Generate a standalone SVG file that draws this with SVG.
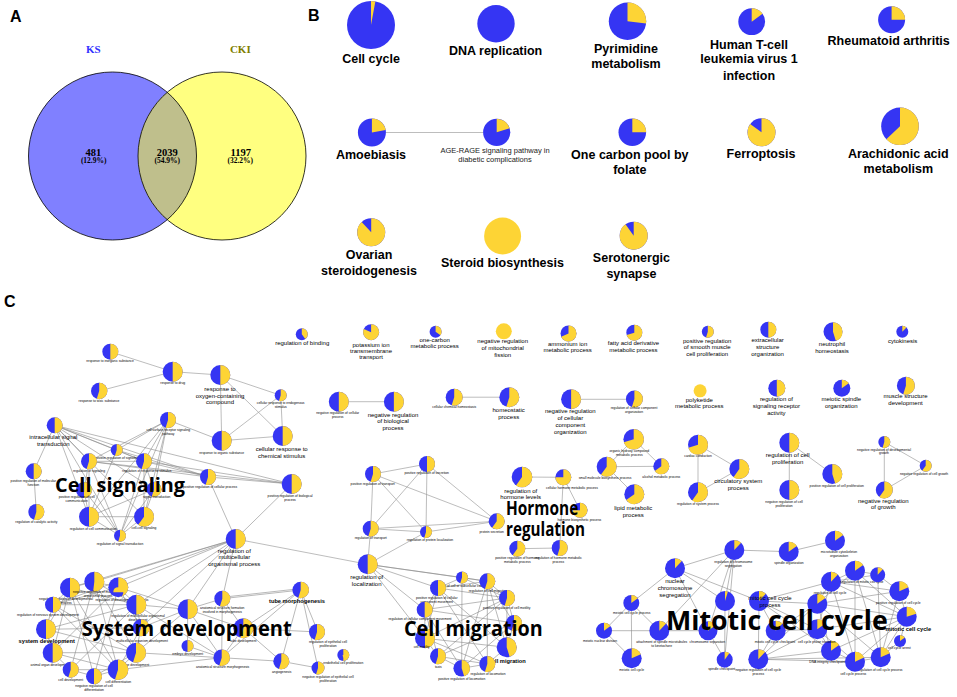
<svg xmlns="http://www.w3.org/2000/svg" width="957" height="697" viewBox="0 0 957 697">
<style>
.b{fill:#3535F3}
.y{fill:none;stroke:#FDD435}
.yf{fill:#FDD435}
text{font-family:"Liberation Sans",Arial,sans-serif;text-anchor:middle;fill:#000}
.lb{font-size:12.5px;font-weight:bold}
.sm7{font-size:7.5px;fill:#222}
.m{font-size:6px}
.mb{font-size:5.7px;font-weight:bold}
.s{font-size:3.3px}
.big{font-family:"Open Sans","Liberation Sans",sans-serif;font-weight:700;text-anchor:start}
.pl{font-size:16px;font-weight:bold;text-anchor:start}
.v{font-family:"Liberation Serif","Times New Roman",serif;font-weight:bold}
.e{fill:none;stroke:#a0a0a0;stroke-width:0.7}
.ed{fill:none;stroke:#8a8a8a;stroke-width:0.6}
</style>
<defs><clipPath id="ksClip"><circle cx="112.5" cy="156" r="84"/></clipPath></defs>
<rect width="957" height="697" fill="#fff"/>

<g id="panel-labels">
<text class="pl" x="10" y="21.7">A</text>
<text class="pl" x="308" y="21">B</text>
<text class="pl" x="4" y="307">C</text>
</g>

<g id="venn">
<circle cx="112.5" cy="156" r="84" fill="#8080FF"/>
<circle cx="222" cy="156" r="84" fill="#FFFF80"/>
<circle cx="222" cy="156" r="84" fill="#BFBF8C" clip-path="url(#ksClip)"/>
<circle cx="112.5" cy="156" r="84" fill="none" stroke="#000" stroke-width="0.8"/>
<circle cx="222" cy="156" r="84" fill="none" stroke="#000" stroke-width="0.8"/>
<text class="v" x="93.3" y="53" font-size="11" style="fill:#3333FF">KS</text>
<text class="v" x="240.3" y="53" font-size="11" style="fill:#7F7F00">CKI</text>
<text class="v" x="93.3" y="156" font-size="10.5">481</text>
<text class="v" x="93.7" y="163.3" font-size="7.5">(12.9%)</text>
<text class="v" x="167.2" y="156" font-size="10.5">2039</text>
<text class="v" x="167.3" y="163.3" font-size="7.5">(54.9%)</text>
<text class="v" x="240.7" y="156" font-size="10.5">1197</text>
<text class="v" x="240.3" y="163.3" font-size="7.5">(32.2%)</text>
</g>

<g id="connectors">
<path class="e" stroke-width="1.2" d="M386 132.5H483"/>
<path class="e" d="M348.8 401.7H383.9M462.7 397.2H499.3M581.1 399.3H625.9"/>
<path class="e" d="M110.3 351.7L172.7 371.7M99.2 391L172.7 371.7M172.7 371.7L220.3 375M220.3 375L280.7 395.3M220.3 375L221.7 440.7M220.3 375L282.7 436M280.7 395.3L221.7 440.7M280.7 395.3L282.7 436M221.7 440.7L282.7 436"/>
<path class="ed" d="M54.7 425.3L116.7 450M54.7 425.3L89 461.3M54.7 425.3L144 461.3M54.7 425.3L208 477M54.7 425.3L89 516.7M54.7 425.3L144 516.7M54.7 425.3L120 535.7M54.7 425.3L33.7 471.3M54.7 425.3L154 489.3M54.7 425.3L291.7 484M168 420L116.7 450M168 420L89 461.3M168 420L144 461.3M168 420L89 516.7M168 420L144 516.7M168 420L120 535.7M168 420L154 489.3M168 420L221.7 440.7M116.7 450L144 461.3M116.7 450L208 477M116.7 450L89 516.7M89 461.3L144 461.3M89 461.3L89 516.7M89 461.3L120 535.7M89 461.3L84 490M144 461.3L208 477M144 461.3L291.7 484M144 461.3L144 516.7M144 461.3L120 535.7M144 461.3L154 489.3M33.7 471.3L36.3 512M84 490L89 516.7M84 490L120 535.7M154 489.3L89 516.7M154 489.3L144 516.7M154 489.3L120 535.7M89 516.7L120 535.7M144 516.7L120 535.7M89 516.7L144 516.7M208 477L291.7 484M208 477L235.7 539M291.7 484L235.7 539M89 461.3L208 477M89 461.3L291.7 484"/>
<path class="e" d="M373 474L427 464M373 474L370.7 528.7M373 474L426 532M373 474L496.7 521.3M427 464L370.7 528.7M427 464L426 532M427 464L496.7 521.3M370.7 528.7L426 532M370.7 528.7L496.7 521.3M426 532L496.7 521.3M370.7 528.7L367.7 564.3M426 532L367.7 564.3M235.7 539L367.7 564.3"/>
<path class="e" d="M522 477L563.3 477.3M563.3 477.3L580 510.3M563.3 477.3L559.7 548M517.3 548.7L559.7 548"/>
<path class="e" d="M633.7 439.3L606.7 466.7M633.7 439.3L661.3 466.3M606.7 466.7L661.3 466.3M606.7 466.7L634.3 494.3M698 444.7L739.3 469M698 444.7L698 492.3M698 492.3L739.3 469M789.3 442.7L832.3 474M789.3 442.7L789.3 490M884.3 442L925.7 465.7M884.3 442L884.3 490M884.3 490L925.7 465.7"/>
<path class="ed" d="M235.7 539L70 587.7M235.7 539L94.3 581.7M235.7 539L118.3 587.3M235.7 539L53 604.7M235.7 539L136.3 604.7M235.7 539L141 627.7M235.7 539L187.7 609.3M235.7 539L222.3 598.7M70 587.7L94.3 581.7M94.3 581.7L118.3 587.3M70 587.7L53 604.7M70 587.7L136.3 604.7M70 587.7L46 629.3M70 587.7L52.7 652.7M70 587.7L118 669.7M70 587.7L94 676.3M94.3 581.7L136.3 604.7M94.3 581.7L136 652.7M94.3 581.7L70.7 669.7M94.3 581.7L118 669.7M118.3 587.3L136.3 604.7M118.3 587.3L53 604.7M118.3 587.3L141 627.7M118.3 587.3L52.7 652.7M118.3 587.3L94 676.3M53 604.7L136.3 604.7M53 604.7L46 629.3M53 604.7L136 652.7M53 604.7L118 669.7M136.3 604.7L141 627.7M136.3 604.7L46 629.3M136.3 604.7L70.7 669.7M136.3 604.7L221.7 657.7M46 629.3L52.7 652.7M46 629.3L141 627.7M46 629.3L136 652.7M141 627.7L136 652.7M141 627.7L118 669.7M52.7 652.7L136 652.7M52.7 652.7L70.7 669.7M52.7 652.7L118 669.7M136 652.7L118 669.7M136 652.7L94 676.3M70.7 669.7L118 669.7M70.7 669.7L94 676.3M94 676.3L118 669.7M141 627.7L187.7 609.3M136.3 604.7L187.7 609.3M136 652.7L221.7 657.7M118 669.7L221.7 657.7M118.3 587.3L187.7 609.3M136 652.7L187.7 609.3"/>
<path class="ed" d="M187.7 609.3L222.3 598.7M187.7 609.3L243.3 628.3M187.7 609.3L221.7 657.7M222.3 598.7L243.3 628.3M222.3 598.7L300.7 590M222.3 597.3L300.7 588.6M222.3 598.7L221.7 657.7M243.3 628.3L300.7 590M243.3 628.3L221.7 657.7M243.3 628.3L281.3 661.3M187.5 646L221.7 657.7M187.7 609.3L187.5 646M221.7 657.7L281.3 661.3M300.7 590L281.3 661.3M300.7 590L318 632M300.7 590L318 668M243.3 628.3L318 632M281.3 661.3L318 668M221.7 657.7L300.7 590"/>
<path class="ed" d="M367.7 564.3L462 577.5M367.7 564.3L438 588M367.7 564.3L424.7 609.7M367.7 564.3L425 638.3M367.7 564.3L487.3 581.3M462 577.5L487.3 581.3M462 577.5L438 588M487.3 581.3L507 598M438 588L424.7 609.7M438 588L487.3 581.3M438 588L507 598M438 588L425 638.3M438 588L506.7 647.3M438 588L487.3 664M424.7 609.7L425 638.3M424.7 609.7L514 623M424.7 609.7L507 598M424.7 609.7L438 656.3M424.7 609.7L461.7 668.3M425 638.3L438 656.3M425 638.3L506.7 647.3M425 638.3L487.3 664M438 656.3L461.7 668.3M461.7 668.3L487.3 664M487.3 664L506.7 647.3M506.7 647.3L514 623M514 623L507 598M487.3 581.3L514 623M487.3 581.3L506.7 647.3M487.3 581.3L487.3 664M462 577.5L507 598M462 577.5L461.7 668.3M487.3 581.3L461.7 668.3M507 598L438 656.3M507 598L425 638.3M514 623L438 656.3M514 623L461.7 668.3M438 656.3L487.3 664M507 598L506.7 647.3"/>
<path class="ed" d="M675 568.3L734.3 550M734.3 550L788.7 551.7M788.7 551.7L835 540.7M675 568.3L631.3 603M675 568.3L725 601M675 568.3L708 630.7M675 568.3L759 601M734.3 550L725 601M734.3 550L708 630.7M734.3 550L724.7 659.7M734.3 550L659.3 630.7M725 601L724.7 659.7M708 630.7L724.7 659.7M631.3 603L604 630.7M631.3 603L631.7 658.3M604 630.7L631.7 658.3M604 630.7L659.3 630.7M631.3 603L659.3 630.7M659.3 630.7L708 630.7M759 601L758.3 659.3M759 601L775.7 630.7M759 601L831 581.7M759 601L817.3 603.7M759 601L817.3 629.3M759 601L831 650.7M758.3 659.3L817.3 603.7M758.3 659.3L817.3 629.3M758.3 659.3L831 650.7M758.3 659.3L775.7 630.7M758.3 659.3L855 661.7M758.3 659.3L880.7 657.3M775.7 630.7L817.3 603.7M817.3 603.7L831 581.7M817.3 603.7L855 570.7M817.3 603.7L899.3 591.3M817.3 603.7L906.7 616.7M817.3 603.7L880.7 657.3M817.3 603.7L831 650.7M831 581.7L855 570.7M831 581.7L877.7 574.7M831 581.7L899.3 591.3M831 581.7L906.7 616.7M831 581.7L855 661.7M855 570.7L877.7 574.7M855 570.7L906.7 616.7M855 570.7L880.7 657.3M877.7 574.7L899.3 591.3M899.3 591.3L906.7 616.7M899.3 591.3L880.7 657.3M906.7 616.7L900 641M906.7 616.7L880.7 657.3M906.7 616.7L855 661.7M900 641L880.7 657.3M880.7 657.3L855 661.7M855 661.7L831 650.7M831 650.7L817.3 629.3M817.3 629.3L831 581.7M817.3 629.3L906.7 616.7M817.3 629.3L855 661.7M775.7 630.7L817.3 629.3M831 650.7L906.7 616.7M855 570.7L855 661.7M877.7 574.7L880.7 657.3"/>
</g>

<g id="panel-b">
<g id="b-cell-cycle"><circle class="b" cx="371" cy="25" r="24"/><circle class="y" cx="371" cy="25" r="12" stroke-width="24" pathLength="100" stroke-dasharray="3 100" transform="rotate(-90 371 25)"/><text class="lb" x="371" y="63">Cell cycle</text></g>
<g id="b-dna-replication"><circle class="b" cx="496" cy="23.7" r="18.7"/><text class="lb" x="495.6" y="55">DNA replication</text></g>
<g id="b-pyrimidine"><circle class="b" cx="627.5" cy="21.3" r="18.7"/><circle class="y" cx="627.5" cy="21.3" r="9.35" stroke-width="18.7" pathLength="100" stroke-dasharray="27 100" transform="rotate(-90 627.5 21.3)"/><text class="lb" x="626" y="53.3">Pyrimidine</text><text class="lb" x="626" y="68.3">metabolism</text></g>
<g id="b-htlv"><circle class="b" cx="751.7" cy="21.7" r="13.4"/><circle class="y" cx="751.7" cy="21.7" r="6.7" stroke-width="13.4" pathLength="100" stroke-dasharray="15 100" transform="rotate(-90 751.7 21.7)"/><text class="lb" x="749" y="49">Human T-cell</text><text class="lb" x="749" y="63.3">leukemia virus 1</text><text class="lb" x="749" y="80">infection</text></g>
<g id="b-rheumatoid"><circle class="b" cx="891.6" cy="19.7" r="13.5"/><circle class="y" cx="891.6" cy="19.7" r="6.75" stroke-width="13.5" pathLength="100" stroke-dasharray="25 100" transform="rotate(-90 891.6 19.7)"/><text class="lb" x="888.7" y="45">Rheumatoid arthritis</text></g>
<g id="b-amoebiasis"><circle class="b" cx="371.9" cy="132.5" r="14"/><circle class="y" cx="371.9" cy="132.5" r="7" stroke-width="14" pathLength="100" stroke-dasharray="22 100" transform="rotate(-90 371.9 132.5)"/><text class="lb" x="371" y="159">Amoebiasis</text></g>
<g id="b-age-rage"><circle class="b" cx="496.7" cy="132.3" r="13.6"/><circle class="y" cx="496.7" cy="132.3" r="6.8" stroke-width="13.6" pathLength="100" stroke-dasharray="20 100" transform="rotate(-90 496.7 132.3)"/><text class="sm7" x="495" y="153.3">AGE-RAGE signaling pathway in</text><text class="sm7" x="495" y="161.7">diabetic complications</text></g>
<g id="b-one-carbon"><circle class="b" cx="632.3" cy="132.3" r="13.8"/><circle class="y" cx="632.3" cy="132.3" r="6.9" stroke-width="13.8" pathLength="100" stroke-dasharray="25 100" transform="rotate(-90 632.3 132.3)"/><text class="lb" x="629.8" y="159">One carbon pool by</text><text class="lb" x="629.8" y="174.3">folate</text></g>
<g id="b-ferroptosis"><circle class="b" cx="761.5" cy="132.3" r="14"/><circle class="y" cx="761.5" cy="132.3" r="7" stroke-width="14" pathLength="100" stroke-dasharray="85 100" transform="rotate(-90 761.5 132.3)"/><text class="lb" x="761" y="158.3">Ferroptosis</text></g>
<g id="b-arachidonic"><circle class="b" cx="900" cy="126.3" r="18.8"/><circle class="y" cx="900" cy="126.3" r="9.4" stroke-width="18.8" pathLength="100" stroke-dasharray="63 100" transform="rotate(-90 900 126.3)"/><text class="lb" x="898.3" y="157.7">Arachidonic acid</text><text class="lb" x="898.3" y="173.3">metabolism</text></g>
<g id="b-ovarian"><circle class="b" cx="371.2" cy="232.3" r="14"/><circle class="y" cx="371.2" cy="232.3" r="7" stroke-width="14" pathLength="100" stroke-dasharray="88 100" transform="rotate(-90 371.2 232.3)"/><text class="lb" x="369" y="259">Ovarian</text><text class="lb" x="369" y="275">steroidogenesis</text></g>
<g id="b-steroid"><circle class="yf" cx="502.6" cy="236" r="18.5"/><text class="lb" x="502.4" y="266.7">Steroid biosynthesis</text></g>
<g id="b-serotonergic"><circle class="b" cx="633.7" cy="235.7" r="14"/><circle class="y" cx="633.7" cy="235.7" r="7" stroke-width="14" pathLength="100" stroke-dasharray="90 100" transform="rotate(-90 633.7 235.7)"/><text class="lb" x="631.4" y="261.7">Serotonergic</text><text class="lb" x="631.4" y="277.7">synapse</text></g>
</g>

<g id="panel-c-top">
<g id="c-binding"><circle class="b" cx="301.8" cy="334.2" r="6"/><circle class="y" cx="301.8" cy="334.2" r="3" stroke-width="6" pathLength="100" stroke-dasharray="40 100" transform="rotate(-90 301.8 334.2)"/><text class="m" x="302.2" y="345">regulation of binding</text></g>
<g id="c-potassium"><circle class="b" cx="371.1" cy="332.2" r="8"/><circle class="y" cx="371.1" cy="332.2" r="4" stroke-width="8" pathLength="100" stroke-dasharray="82 100" transform="rotate(-90 371.1 332.2)"/><text class="m" x="371" y="347.3">potassium ion</text><text class="m" x="371" y="353.3">transmembrane</text><text class="m" x="371" y="359.3">transport</text></g>
<g id="c-one-carbon"><circle class="b" cx="435.6" cy="331.7" r="6"/><circle class="y" cx="435.6" cy="331.7" r="3" stroke-width="6" pathLength="100" stroke-dasharray="35 100" transform="rotate(-90 435.6 331.7)"/><text class="m" x="434.7" y="342.3">one-carbon</text><text class="m" x="434.7" y="348.3">metabolic process</text></g>
<g id="c-mito-fission"><circle class="yf" cx="503.8" cy="331.3" r="8"/><text class="m" x="502.7" y="343.3">negative regulation</text><text class="m" x="502.7" y="350">of mitochondrial</text><text class="m" x="502.7" y="356.7">fission</text></g>
<g id="c-ammonium"><circle class="b" cx="568.5" cy="333.5" r="8"/><circle class="y" cx="568.5" cy="333.5" r="4" stroke-width="8" pathLength="100" stroke-dasharray="68 100" transform="rotate(-90 568.5 333.5)"/><text class="m" x="567.6" y="345.7">ammonium ion</text><text class="m" x="567.6" y="352.3">metabolic process</text></g>
<g id="c-fatty"><circle class="b" cx="634.3" cy="332.7" r="8"/><circle class="y" cx="634.3" cy="332.7" r="4" stroke-width="8" pathLength="100" stroke-dasharray="70 100" transform="rotate(-90 634.3 332.7)"/><text class="m" x="633.4" y="345">fatty acid derivative</text><text class="m" x="633.4" y="351.7">metabolic process</text></g>
<g id="c-smooth"><circle class="b" cx="707.8" cy="331.7" r="6"/><circle class="y" cx="707.8" cy="331.7" r="3" stroke-width="6" pathLength="100" stroke-dasharray="55 100" transform="rotate(-90 707.8 331.7)"/><text class="m" x="707.2" y="342.7">positive regulation</text><text class="m" x="707.2" y="349.3">of smooth muscle</text><text class="m" x="707.2" y="356">cell proliferation</text></g>
<g id="c-extracell"><circle class="b" cx="768.3" cy="329.7" r="8"/><circle class="y" cx="768.3" cy="329.7" r="4" stroke-width="8" pathLength="100" stroke-dasharray="50 100" transform="rotate(-90 768.3 329.7)"/><text class="m" x="767.6" y="341.7">extracellular</text><text class="m" x="767.6" y="349">structure</text><text class="m" x="767.6" y="356">organization</text></g>
<g id="c-neutrophil"><circle class="b" cx="833" cy="331.7" r="9.5"/><circle class="y" cx="833" cy="331.7" r="4.75" stroke-width="9.5" pathLength="100" stroke-dasharray="45 100" transform="rotate(-90 833 331.7)"/><text class="m" x="832" y="346">neutrophil</text><text class="m" x="832" y="353.3">homeostasis</text></g>
<g id="c-cytokinesis"><circle class="b" cx="902.3" cy="331.8" r="6"/><circle class="y" cx="902.3" cy="331.8" r="3" stroke-width="6" pathLength="100" stroke-dasharray="12 100" transform="rotate(-90 902.3 331.8)"/><text class="m" x="902.7" y="342.7">cytokinesis</text></g>

<g id="c-neg-cell-proc"><circle class="b" cx="338.8" cy="401.7" r="10"/><circle class="y" cx="338.8" cy="401.7" r="5" stroke-width="10" pathLength="100" stroke-dasharray="50 100" transform="rotate(-90 338.8 401.7)"/><text class="s" x="337.7" y="414.3">negative regulation of cellular</text><text class="s" x="337.7" y="418.3">process</text></g>
<g id="c-neg-bio-proc"><circle class="b" cx="393.9" cy="401.7" r="10"/><circle class="y" cx="393.9" cy="401.7" r="5" stroke-width="10" pathLength="100" stroke-dasharray="50 100" transform="rotate(-90 393.9 401.7)"/><text class="m" x="393" y="416.7">negative regulation</text><text class="m" x="393" y="423.3">of biological</text><text class="m" x="393" y="430">process</text></g>
<g id="c-chem-homeo"><circle class="b" cx="454.2" cy="397.2" r="8.5"/><circle class="y" cx="454.2" cy="397.2" r="4.25" stroke-width="8.5" pathLength="100" stroke-dasharray="55 100" transform="rotate(-90 454.2 397.2)"/><text class="s" x="454.2" y="407.7">cellular chemical homeostasis</text></g>
<g id="c-homeostatic"><circle class="b" cx="509.3" cy="397.3" r="10"/><circle class="y" cx="509.3" cy="397.3" r="5" stroke-width="10" pathLength="100" stroke-dasharray="55 100" transform="rotate(-90 509.3 397.3)"/><text class="m" x="508.7" y="411.7">homeostatic</text><text class="m" x="508.7" y="418.7">process</text></g>
<g id="c-neg-compo"><circle class="b" cx="571.1" cy="399.3" r="10"/><circle class="y" cx="571.1" cy="399.3" r="5" stroke-width="10" pathLength="100" stroke-dasharray="50 100" transform="rotate(-90 571.1 399.3)"/><text class="m" x="570.3" y="413.3">negative regulation</text><text class="m" x="570.3" y="420.3">of cellular</text><text class="m" x="570.3" y="427.3">component</text><text class="m" x="570.3" y="434.3">organization</text></g>
<g id="c-reg-compo"><circle class="b" cx="634.4" cy="399" r="8.5"/><circle class="y" cx="634.4" cy="399" r="4.25" stroke-width="8.5" pathLength="100" stroke-dasharray="55 100" transform="rotate(-90 634.4 399)"/><text class="s" x="634" y="409.3">regulation of cellular component</text><text class="s" x="634" y="413.3">organization</text></g>
<g id="c-polyketide"><circle class="yf" cx="700.1" cy="390.8" r="6.5"/><text class="m" x="699.3" y="401.7">polyketide</text><text class="m" x="699.3" y="408.3">metabolic process</text></g>
<g id="c-reg-sig-rec"><circle class="b" cx="776.8" cy="388.3" r="8.5"/><circle class="y" cx="776.8" cy="388.3" r="4.25" stroke-width="8.5" pathLength="100" stroke-dasharray="50 100" transform="rotate(-90 776.8 388.3)"/><text class="m" x="776.4" y="400.7">regulation of</text><text class="m" x="776.4" y="408">signaling receptor</text><text class="m" x="776.4" y="415.3">activity</text></g>
<g id="c-meiotic-spindle"><circle class="b" cx="841.8" cy="388.3" r="8.5"/><circle class="y" cx="841.8" cy="388.3" r="4.25" stroke-width="8.5" pathLength="100" stroke-dasharray="15 100" transform="rotate(-90 841.8 388.3)"/><text class="m" x="841.3" y="401">meiotic spindle</text><text class="m" x="841.3" y="408.3">organization</text></g>
<g id="c-muscle"><circle class="b" cx="905.9" cy="385.7" r="9"/><circle class="y" cx="905.9" cy="385.7" r="4.5" stroke-width="9" pathLength="100" stroke-dasharray="55 100" transform="rotate(-90 905.9 385.7)"/><text class="m" x="905.5" y="398.3">muscle structure</text><text class="m" x="905.5" y="405.3">development</text></g>
</g>

<g id="panel-c-response">
<g id="c-inorganic"><circle class="b" cx="110.3" cy="351.7" r="8"/><circle class="y" cx="110.3" cy="351.7" r="4" stroke-width="8" pathLength="100" stroke-dasharray="50 100" transform="rotate(-90 110.3 351.7)"/><text class="s" x="110" y="362.3">response to inorganic substance</text></g>
<g id="c-drug"><circle class="b" cx="172.7" cy="371.7" r="10"/><circle class="y" cx="172.7" cy="371.7" r="5" stroke-width="10" pathLength="100" stroke-dasharray="50 100" transform="rotate(-90 172.7 371.7)"/><text class="s" x="172.7" y="384">response to drug</text></g>
<g id="c-toxic"><circle class="b" cx="99.2" cy="391" r="8.2"/><circle class="y" cx="99.2" cy="391" r="4.1" stroke-width="8.2" pathLength="100" stroke-dasharray="55 100" transform="rotate(-90 99.2 391)"/><text class="s" x="99" y="401.7">response to toxic substance</text></g>
<g id="c-oxygen"><circle class="b" cx="220.3" cy="375" r="10"/><circle class="y" cx="220.3" cy="375" r="5" stroke-width="10" pathLength="100" stroke-dasharray="50 100" transform="rotate(-90 220.3 375)"/><text class="m" x="220" y="390.7">response to</text><text class="m" x="220" y="397.7">oxygen-containing</text><text class="m" x="220" y="404.3">compound</text></g>
<g id="c-endogenous"><circle class="b" cx="280.7" cy="395.3" r="6"/><circle class="y" cx="280.7" cy="395.3" r="3" stroke-width="6" pathLength="100" stroke-dasharray="55 100" transform="rotate(-90 280.7 395.3)"/><text class="s" x="280.7" y="404">cellular response to endogenous</text><text class="s" x="280.7" y="408">stimulus</text></g>
<g id="c-organic"><circle class="b" cx="221.7" cy="440.7" r="10"/><circle class="y" cx="221.7" cy="440.7" r="5" stroke-width="10" pathLength="100" stroke-dasharray="50 100" transform="rotate(-90 221.7 440.7)"/><text class="s" x="221.7" y="454">response to organic substance</text></g>
<g id="c-chem-stim"><circle class="b" cx="282.7" cy="436" r="10"/><circle class="y" cx="282.7" cy="436" r="5" stroke-width="10" pathLength="100" stroke-dasharray="50 100" transform="rotate(-90 282.7 436)"/><text class="m" x="281.7" y="451">cellular response to</text><text class="m" x="281.7" y="458">chemical stimulus</text></g>
</g>

<g id="panel-c-signaling">
<g id="c-ist"><circle class="b" cx="54.7" cy="425.3" r="8"/><circle class="y" cx="54.7" cy="425.3" r="4" stroke-width="8" pathLength="100" stroke-dasharray="50 100" transform="rotate(-90 54.7 425.3)"/><text class="m" x="53.3" y="439.3">intracellular signal</text><text class="m" x="53.3" y="446">transduction</text></g>
<g id="c-csr"><circle class="b" cx="168" cy="420" r="8"/><circle class="y" cx="168" cy="420" r="4" stroke-width="8" pathLength="100" stroke-dasharray="55 100" transform="rotate(-90 168 420)"/><text class="s" x="168.3" y="430.7">cell surface receptor signaling</text><text class="s" x="168.3" y="434.7">pathway</text></g>
<g id="c-prs"><circle class="b" cx="116.7" cy="450" r="6"/><circle class="y" cx="116.7" cy="450" r="3" stroke-width="6" pathLength="100" stroke-dasharray="55 100" transform="rotate(-90 116.7 450)"/><text class="s" x="116.7" y="458.7">positive regulation of signaling</text></g>
<g id="c-rs"><circle class="b" cx="89" cy="461.3" r="8"/><circle class="y" cx="89" cy="461.3" r="4" stroke-width="8" pathLength="100" stroke-dasharray="55 100" transform="rotate(-90 89 461.3)"/><text class="s" x="89" y="472.3">regulation of signaling</text></g>
<g id="c-rrs"><circle class="b" cx="144" cy="461.3" r="8"/><circle class="y" cx="144" cy="461.3" r="4" stroke-width="8" pathLength="100" stroke-dasharray="55 100" transform="rotate(-90 144 461.3)"/><text class="s" x="146.7" y="472.3">regulation of response to stimulus</text></g>
<g id="c-pmf"><circle class="b" cx="33.7" cy="471.3" r="8"/><circle class="y" cx="33.7" cy="471.3" r="4" stroke-width="8" pathLength="100" stroke-dasharray="50 100" transform="rotate(-90 33.7 471.3)"/><text class="s" x="33.3" y="482.3">positive regulation of molecular</text><text class="s" x="33.3" y="486.3">function</text></g>
<g id="c-pcp"><circle class="b" cx="208" cy="477" r="8"/><circle class="y" cx="208" cy="477" r="4" stroke-width="8" pathLength="100" stroke-dasharray="55 100" transform="rotate(-90 208 477)"/><text class="s" x="210" y="488.3">positive regulation of cellular process</text></g>
<g id="c-pbp"><circle class="b" cx="291.7" cy="484" r="10"/><circle class="y" cx="291.7" cy="484" r="5" stroke-width="10" pathLength="100" stroke-dasharray="50 100" transform="rotate(-90 291.7 484)"/><text class="s" x="290" y="496.7">positive regulation of biological</text><text class="s" x="290" y="500.7">process</text></g>
<g id="c-pcc"><circle class="b" cx="84" cy="490" r="8"/><circle class="y" cx="84" cy="490" r="4" stroke-width="8" pathLength="100" stroke-dasharray="50 100" transform="rotate(-90 84 490)"/><text class="s" x="76.7" y="497.5">positive regulation of cell</text><text class="s" x="76.7" y="501.5">communication</text></g>
<g id="c-st"><circle class="b" cx="154" cy="489.3" r="7.5"/><circle class="y" cx="154" cy="489.3" r="3.75" stroke-width="7.5" pathLength="100" stroke-dasharray="55 100" transform="rotate(-90 154 489.3)"/><text class="s" x="156.7" y="498">signal transduction</text></g>
<g id="c-rca"><circle class="b" cx="36.3" cy="512" r="8"/><circle class="y" cx="36.3" cy="512" r="4" stroke-width="8" pathLength="100" stroke-dasharray="55 100" transform="rotate(-90 36.3 512)"/><text class="s" x="36.3" y="523">regulation of catalytic activity</text></g>
<g id="c-rcc"><circle class="b" cx="89" cy="516.7" r="10"/><circle class="y" cx="89" cy="516.7" r="5" stroke-width="10" pathLength="100" stroke-dasharray="50 100" transform="rotate(-90 89 516.7)"/><text class="s" x="93.3" y="530">regulation of cell communication</text></g>
<g id="c-ccs"><circle class="b" cx="144" cy="516.7" r="10"/><circle class="y" cx="144" cy="516.7" r="5" stroke-width="10" pathLength="100" stroke-dasharray="60 100" transform="rotate(-90 144 516.7)"/><text class="s" x="144" y="529.3">cell-cell signaling</text></g>
<g id="c-rst"><circle class="b" cx="120" cy="535.7" r="6"/><circle class="y" cx="120" cy="535.7" r="3" stroke-width="6" pathLength="100" stroke-dasharray="55 100" transform="rotate(-90 120 535.7)"/><text class="s" x="120" y="545">regulation of signal transduction</text></g>
<g id="c-reg-multi"><circle class="b" cx="235.7" cy="539" r="10"/><circle class="y" cx="235.7" cy="539" r="5" stroke-width="10" pathLength="100" stroke-dasharray="50 100" transform="rotate(-90 235.7 539)"/><text class="m" x="234.3" y="553.3">regulation of</text><text class="m" x="234.3" y="559.3">multicellular</text><text class="m" x="234.3" y="566">organismal process</text></g>
</g>

<g id="panel-c-transport">
<g id="c-pos-transport"><circle class="b" cx="373" cy="474" r="8"/><circle class="y" cx="373" cy="474" r="4" stroke-width="8" pathLength="100" stroke-dasharray="55 100" transform="rotate(-90 373 474)"/><text class="s" x="372.7" y="485">positive regulation of transport</text></g>
<g id="c-pos-secretion"><circle class="b" cx="427" cy="464" r="8"/><circle class="y" cx="427" cy="464" r="4" stroke-width="8" pathLength="100" stroke-dasharray="50 100" transform="rotate(-90 427 464)"/><text class="s" x="426.7" y="474.3">positive regulation of secretion</text></g>
<g id="c-reg-transport"><circle class="b" cx="370.7" cy="528.7" r="8"/><circle class="y" cx="370.7" cy="528.7" r="4" stroke-width="8" pathLength="100" stroke-dasharray="55 100" transform="rotate(-90 370.7 528.7)"/><text class="s" x="370.7" y="539.3">regulation of transport</text></g>
<g id="c-reg-prot-loc"><circle class="b" cx="426" cy="532" r="6"/><circle class="y" cx="426" cy="532" r="3" stroke-width="6" pathLength="100" stroke-dasharray="55 100" transform="rotate(-90 426 532)"/><text class="s" x="430" y="541">regulation of protein localization</text></g>
<g id="c-prot-secretion"><circle class="b" cx="496.7" cy="521.3" r="8"/><circle class="y" cx="496.7" cy="521.3" r="4" stroke-width="8" pathLength="100" stroke-dasharray="60 100" transform="rotate(-90 496.7 521.3)"/><text class="s" x="491.7" y="532.7">protein secretion</text></g>
<g id="c-reg-localization"><circle class="b" cx="367.7" cy="564.3" r="10"/><circle class="y" cx="367.7" cy="564.3" r="5" stroke-width="10" pathLength="100" stroke-dasharray="50 100" transform="rotate(-90 367.7 564.3)"/><text class="m" x="366.7" y="579.3">regulation of</text><text class="m" x="366.7" y="586">localization</text></g>
</g>

<g id="panel-c-hormone">
<g id="c-hormone-levels"><circle class="b" cx="522" cy="477" r="10.3"/><circle class="y" cx="522" cy="477" r="5.15" stroke-width="10.3" pathLength="100" stroke-dasharray="60 100" transform="rotate(-90 522 477)"/><text class="m" x="520.7" y="492.7">regulation of</text><text class="m" x="520.7" y="499">hormone levels</text></g>
<g id="c-cell-hormone"><circle class="b" cx="563.3" cy="477.3" r="8"/><circle class="y" cx="563.3" cy="477.3" r="4" stroke-width="8" pathLength="100" stroke-dasharray="75 100" transform="rotate(-90 563.3 477.3)"/><text class="s" x="572" y="488.7">cellular hormone metabolic process</text></g>
<g id="c-hormone-bio"><circle class="b" cx="580" cy="510.3" r="7.5"/><circle class="y" cx="580" cy="510.3" r="3.75" stroke-width="7.5" pathLength="100" stroke-dasharray="75 100" transform="rotate(-90 580 510.3)"/><text class="s" x="579.3" y="521">hormone biosynthetic process</text></g>
<g id="c-pos-hormone-met"><circle class="b" cx="517.3" cy="548.7" r="8"/><circle class="y" cx="517.3" cy="548.7" r="4" stroke-width="8" pathLength="100" stroke-dasharray="60 100" transform="rotate(-90 517.3 548.7)"/><text class="s" x="517.3" y="559">positive regulation of hormone</text><text class="s" x="517.3" y="563">metabolic process</text></g>
<g id="c-reg-hormone-met"><circle class="b" cx="559.7" cy="548" r="8"/><circle class="y" cx="559.7" cy="548" r="4" stroke-width="8" pathLength="100" stroke-dasharray="55 100" transform="rotate(-90 559.7 548)"/><text class="s" x="558.3" y="559">regulation of hormone metabolic</text><text class="s" x="558.3" y="563">process</text></g>
</g>

<g id="panel-c-metabolic">
<g id="c-organic-hydroxy"><circle class="b" cx="633.7" cy="439.3" r="10.3"/><circle class="y" cx="633.7" cy="439.3" r="5.15" stroke-width="10.3" pathLength="100" stroke-dasharray="70 100" transform="rotate(-90 633.7 439.3)"/><text class="s" x="629.3" y="452">organic hydroxy compound</text><text class="s" x="629.3" y="456">metabolic process</text></g>
<g id="c-small-mol"><circle class="b" cx="606.7" cy="466.7" r="10"/><circle class="y" cx="606.7" cy="466.7" r="5" stroke-width="10" pathLength="100" stroke-dasharray="60 100" transform="rotate(-90 606.7 466.7)"/><text class="s" x="605" y="479.3">small molecule biosynthetic process</text></g>
<g id="c-alcohol"><circle class="b" cx="661.3" cy="466.3" r="8"/><circle class="y" cx="661.3" cy="466.3" r="4" stroke-width="8" pathLength="100" stroke-dasharray="65 100" transform="rotate(-90 661.3 466.3)"/><text class="s" x="661.3" y="477.7">alcohol metabolic process</text></g>
<g id="c-lipid"><circle class="b" cx="634.3" cy="494.3" r="10"/><circle class="y" cx="634.3" cy="494.3" r="5" stroke-width="10" pathLength="100" stroke-dasharray="65 100" transform="rotate(-90 634.3 494.3)"/><text class="m" x="633.3" y="510">lipid metabolic</text><text class="m" x="633.3" y="516.7">process</text></g>
<g id="c-cardiac"><circle class="b" cx="698" cy="444.7" r="10"/><circle class="y" cx="698" cy="444.7" r="5" stroke-width="10" pathLength="100" stroke-dasharray="70 100" transform="rotate(-90 698 444.7)"/><text class="s" x="698" y="457.3">cardiac conduction</text></g>
<g id="c-circulatory"><circle class="b" cx="739.3" cy="469" r="10"/><circle class="y" cx="739.3" cy="469" r="5" stroke-width="10" pathLength="100" stroke-dasharray="60 100" transform="rotate(-90 739.3 469)"/><text class="m" x="738.3" y="483.3">circulatory system</text><text class="m" x="738.3" y="490.3">process</text></g>
<g id="c-reg-system"><circle class="b" cx="698" cy="492.3" r="10"/><circle class="y" cx="698" cy="492.3" r="5" stroke-width="10" pathLength="100" stroke-dasharray="60 100" transform="rotate(-90 698 492.3)"/><text class="s" x="698" y="505.3">regulation of system process</text></g>
<g id="c-reg-cell-prol"><circle class="b" cx="789.3" cy="442.7" r="10"/><circle class="y" cx="789.3" cy="442.7" r="5" stroke-width="10" pathLength="100" stroke-dasharray="50 100" transform="rotate(-90 789.3 442.7)"/><text class="m" x="787.7" y="457.3">regulation of cell</text><text class="m" x="787.7" y="464">proliferation</text></g>
<g id="c-pos-cell-prol"><circle class="b" cx="832.3" cy="474" r="10"/><circle class="y" cx="832.3" cy="474" r="5" stroke-width="10" pathLength="100" stroke-dasharray="45 100" transform="rotate(-90 832.3 474)"/><text class="s" x="836.7" y="486.7">positive regulation of cell proliferation</text></g>
<g id="c-neg-cell-prol"><circle class="b" cx="789.3" cy="490" r="10"/><circle class="y" cx="789.3" cy="490" r="5" stroke-width="10" pathLength="100" stroke-dasharray="50 100" transform="rotate(-90 789.3 490)"/><text class="s" x="784" y="502.7">negative regulation of cell</text><text class="s" x="784" y="506.7">proliferation</text></g>
<g id="c-neg-dev-growth"><circle class="b" cx="884.3" cy="442" r="6"/><circle class="y" cx="884.3" cy="442" r="3" stroke-width="6" pathLength="100" stroke-dasharray="55 100" transform="rotate(-90 884.3 442)"/><text class="s" x="884" y="450.7">negative regulation of developmental</text><text class="s" x="884" y="454.3">growth</text></g>
<g id="c-neg-cell-growth"><circle class="b" cx="925.7" cy="465.7" r="6"/><circle class="y" cx="925.7" cy="465.7" r="3" stroke-width="6" pathLength="100" stroke-dasharray="60 100" transform="rotate(-90 925.7 465.7)"/><text class="s" x="924" y="474.7">negative regulation of cell growth</text></g>
<g id="c-neg-growth"><circle class="b" cx="884.3" cy="490" r="8.5"/><circle class="y" cx="884.3" cy="490" r="4.25" stroke-width="8.5" pathLength="100" stroke-dasharray="60 100" transform="rotate(-90 884.3 490)"/><text class="m" x="883.3" y="502.7">negative regulation</text><text class="m" x="883.3" y="509.3">of growth</text></g>
</g>

<g id="panel-c-development">
<g id="c-sd-a"><circle class="b" cx="70" cy="587.7" r="10"/><circle class="y" cx="70" cy="587.7" r="5" stroke-width="10" pathLength="100" stroke-dasharray="50 100" transform="rotate(-90 70 587.7)"/><text class="s" x="66" y="600">negative regulation of developmental</text><text class="s" x="66" y="604">process</text></g>
<g id="c-sd-b"><circle class="b" cx="94.3" cy="581.7" r="10"/><circle class="y" cx="94.3" cy="581.7" r="5" stroke-width="10" pathLength="100" stroke-dasharray="52 100" transform="rotate(-90 94.3 581.7)"/><text class="s" x="98" y="593.3">negative regulation of multicellular</text><text class="s" x="98" y="597.3">organismal process</text></g>
<g id="c-sd-c"><circle class="b" cx="118.3" cy="587.3" r="10"/><circle class="y" cx="118.3" cy="587.3" r="5" stroke-width="10" pathLength="100" stroke-dasharray="50 100" transform="rotate(-90 118.3 587.3)"/><text class="s" x="122" y="601">regulation of developmental process</text></g>
<g id="c-sd-d"><circle class="b" cx="53" cy="604.7" r="8"/><circle class="y" cx="53" cy="604.7" r="4" stroke-width="8" pathLength="100" stroke-dasharray="50 100" transform="rotate(-90 53 604.7)"/><text class="s" x="48" y="616">regulation of nervous system development</text></g>
<g id="c-sd-e"><circle class="b" cx="136.3" cy="604.7" r="10"/><circle class="y" cx="136.3" cy="604.7" r="5" stroke-width="10" pathLength="100" stroke-dasharray="50 100" transform="rotate(-90 136.3 604.7)"/><text class="s" x="138" y="617">regulation of multicellular organismal</text><text class="s" x="138" y="621">development</text></g>
<g id="c-sd-f"><circle class="b" cx="46" cy="629.3" r="10"/><circle class="y" cx="46" cy="629.3" r="5" stroke-width="10" pathLength="100" stroke-dasharray="50 100" transform="rotate(-90 46 629.3)"/><text class="mb" x="46.7" y="643.3">system development</text></g>
<g id="c-sd-g"><circle class="b" cx="141" cy="627.7" r="8.5"/><circle class="y" cx="141" cy="627.7" r="4.25" stroke-width="8.5" pathLength="100" stroke-dasharray="55 100" transform="rotate(-90 141 627.7)"/><text class="s" x="142" y="641.7">multicellular organism development</text></g>
<g id="c-sd-h"><circle class="b" cx="52.7" cy="652.7" r="10"/><circle class="y" cx="52.7" cy="652.7" r="5" stroke-width="10" pathLength="100" stroke-dasharray="50 100" transform="rotate(-90 52.7 652.7)"/><text class="s" x="50" y="666">animal organ development</text></g>
<g id="c-sd-i"><circle class="b" cx="136" cy="652.7" r="10"/><circle class="y" cx="136" cy="652.7" r="5" stroke-width="10" pathLength="100" stroke-dasharray="55 100" transform="rotate(-90 136 652.7)"/><text class="s" x="135" y="666">tissue development</text></g>
<g id="c-sd-j"><circle class="b" cx="70.7" cy="669.7" r="8"/><circle class="y" cx="70.7" cy="669.7" r="4" stroke-width="8" pathLength="100" stroke-dasharray="55 100" transform="rotate(-90 70.7 669.7)"/><text class="s" x="70.7" y="681">cell development</text></g>
<g id="c-sd-k"><circle class="b" cx="94" cy="676.3" r="8"/><circle class="y" cx="94" cy="676.3" r="4" stroke-width="8" pathLength="100" stroke-dasharray="50 100" transform="rotate(-90 94 676.3)"/><text class="s" x="94" y="687.3">negative regulation of cell</text><text class="s" x="94" y="691.3">differentiation</text></g>
<g id="c-sd-l"><circle class="b" cx="118" cy="669.7" r="10.3"/><circle class="y" cx="118" cy="669.7" r="5.15" stroke-width="10.3" pathLength="100" stroke-dasharray="55 100" transform="rotate(-90 118 669.7)"/><text class="s" x="118.3" y="683">cell differentiation</text></g>
<g id="c-sd-m"><circle class="b" cx="187.7" cy="609.3" r="10"/><circle class="y" cx="187.7" cy="609.3" r="5" stroke-width="10" pathLength="100" stroke-dasharray="50 100" transform="rotate(-90 187.7 609.3)"/></g>
<g id="c-sd-n"><circle class="b" cx="222.3" cy="598.7" r="8"/><circle class="y" cx="222.3" cy="598.7" r="4" stroke-width="8" pathLength="100" stroke-dasharray="55 100" transform="rotate(-90 222.3 598.7)"/><text class="s" x="222.3" y="609.3">anatomical structure formation</text><text class="s" x="222.3" y="613.3">involved in morphogenesis</text></g>
<g id="c-sd-o"><circle class="b" cx="243.3" cy="628.3" r="10"/><circle class="y" cx="243.3" cy="628.3" r="5" stroke-width="10" pathLength="100" stroke-dasharray="55 100" transform="rotate(-90 243.3 628.3)"/><text class="s" x="243.3" y="642">tube development</text></g>
<g id="c-sd-p"><circle class="b" cx="187.5" cy="646" r="6"/><circle class="y" cx="187.5" cy="646" r="3" stroke-width="6" pathLength="100" stroke-dasharray="50 100" transform="rotate(-90 187.5 646)"/><text class="s" x="187.7" y="655">embryo development</text></g>
<g id="c-sd-q"><circle class="b" cx="221.7" cy="657.7" r="8.3"/><circle class="y" cx="221.7" cy="657.7" r="4.15" stroke-width="8.3" pathLength="100" stroke-dasharray="55 100" transform="rotate(-90 221.7 657.7)"/><text class="s" x="222.7" y="667.7">anatomical structure morphogenesis</text></g>
<g id="c-sd-r"><circle class="b" cx="300.7" cy="590" r="8.3"/><circle class="y" cx="300.7" cy="590" r="4.15" stroke-width="8.3" pathLength="100" stroke-dasharray="55 100" transform="rotate(-90 300.7 590)"/><text class="mb" x="297" y="602.7">tube morphogenesis</text></g>
<g id="c-sd-s"><circle class="b" cx="281.3" cy="661.3" r="8"/><circle class="y" cx="281.3" cy="661.3" r="4" stroke-width="8" pathLength="100" stroke-dasharray="55 100" transform="rotate(-90 281.3 661.3)"/><text class="s" x="281.7" y="672.7">angiogenesis</text></g>
<g id="c-sd-t"><circle class="b" cx="317" cy="632" r="8"/><circle class="y" cx="317" cy="632" r="4" stroke-width="8" pathLength="100" stroke-dasharray="55 100" transform="rotate(-90 317 632)"/><text class="s" x="328" y="643.3">regulation of epithelial cell</text><text class="s" x="328" y="647.3">proliferation</text></g>
<g id="c-sd-u"><circle class="b" cx="318" cy="668" r="6.5"/><circle class="y" cx="318" cy="668" r="3.25" stroke-width="6.5" pathLength="100" stroke-dasharray="55 100" transform="rotate(-90 318 668)"/><text class="s" x="328" y="678">negative regulation of epithelial cell</text><text class="s" x="328" y="682">proliferation</text></g>
<g id="c-sd-v"><circle class="b" cx="343.3" cy="655" r="6"/><circle class="y" cx="343.3" cy="655" r="3" stroke-width="6" pathLength="100" stroke-dasharray="50 100" transform="rotate(-90 343.3 655)"/><text class="s" x="343.3" y="664">endothelial cell proliferation</text></g>
</g>

<g id="panel-c-migration">
<g id="c-mig-1"><circle class="b" cx="462" cy="577.5" r="6"/><circle class="y" cx="462" cy="577.5" r="3" stroke-width="6" pathLength="100" stroke-dasharray="55 100" transform="rotate(-90 462 577.5)"/><text class="s" x="462" y="586.5">movement of cell or subcellular component</text></g>
<g id="c-mig-2"><circle class="b" cx="487.3" cy="581.3" r="8"/><circle class="y" cx="487.3" cy="581.3" r="4" stroke-width="8" pathLength="100" stroke-dasharray="55 100" transform="rotate(-90 487.3 581.3)"/><text class="s" x="488" y="592">regulation of cell migration</text></g>
<g id="c-mig-3"><circle class="b" cx="438" cy="588" r="8"/><circle class="y" cx="438" cy="588" r="4" stroke-width="8" pathLength="100" stroke-dasharray="50 100" transform="rotate(-90 438 588)"/><text class="s" x="436.7" y="599.3">positive regulation of cellular</text><text class="s" x="436.7" y="603.3">component movement</text></g>
<g id="c-mig-4"><circle class="b" cx="507" cy="598" r="8"/><circle class="y" cx="507" cy="598" r="4" stroke-width="8" pathLength="100" stroke-dasharray="55 100" transform="rotate(-90 507 598)"/><text class="s" x="506.7" y="609">positive regulation of cell motility</text></g>
<g id="c-mig-5"><circle class="b" cx="424.7" cy="609.7" r="8"/><circle class="y" cx="424.7" cy="609.7" r="4" stroke-width="8" pathLength="100" stroke-dasharray="50 100" transform="rotate(-90 424.7 609.7)"/><text class="s" x="420" y="620">regulation of cellular component movement</text></g>
<g id="c-mig-6"><circle class="b" cx="514" cy="623" r="8"/><circle class="y" cx="514" cy="623" r="4" stroke-width="8" pathLength="100" stroke-dasharray="55 100" transform="rotate(-90 514 623)"/></g>
<g id="c-mig-7"><circle class="b" cx="425" cy="638.3" r="10"/><circle class="y" cx="425" cy="638.3" r="5" stroke-width="10" pathLength="100" stroke-dasharray="50 100" transform="rotate(-90 425 638.3)"/><text class="s" x="421.7" y="648.3">cell motility</text></g>
<g id="c-mig-8"><circle class="b" cx="506.7" cy="647.3" r="10"/><circle class="y" cx="506.7" cy="647.3" r="5" stroke-width="10" pathLength="100" stroke-dasharray="45 100" transform="rotate(-90 506.7 647.3)"/><text class="mb" x="507.3" y="662.7">cell migration</text></g>
<g id="c-mig-9"><circle class="b" cx="438" cy="656.3" r="8"/><circle class="y" cx="438" cy="656.3" r="4" stroke-width="8" pathLength="100" stroke-dasharray="55 100" transform="rotate(-90 438 656.3)"/><text class="s" x="438.3" y="667.7">taxis</text></g>
<g id="c-mig-10"><circle class="b" cx="461.7" cy="668.3" r="8.3"/><circle class="y" cx="461.7" cy="668.3" r="4.15" stroke-width="8.3" pathLength="100" stroke-dasharray="45 100" transform="rotate(-90 461.7 668.3)"/><text class="s" x="461.7" y="679.5">positive regulation of locomotion</text></g>
<g id="c-mig-11"><circle class="b" cx="487.3" cy="664" r="8"/><circle class="y" cx="487.3" cy="664" r="4" stroke-width="8" pathLength="100" stroke-dasharray="55 100" transform="rotate(-90 487.3 664)"/><text class="s" x="488" y="675">regulation of locomotion</text></g>
</g>

<g id="panel-c-mitotic">
<g id="c-mit-a"><circle class="b" cx="734.3" cy="550" r="10"/><circle class="y" cx="734.3" cy="550" r="5" stroke-width="10" pathLength="100" stroke-dasharray="12 100" transform="rotate(-90 734.3 550)"/><text class="s" x="733.3" y="562.7">regulation of chromosome</text><text class="s" x="733.3" y="566.7">segregation</text></g>
<g id="c-mit-b"><circle class="b" cx="788.7" cy="551.7" r="10"/><circle class="y" cx="788.7" cy="551.7" r="5" stroke-width="10" pathLength="100" stroke-dasharray="15 100" transform="rotate(-90 788.7 551.7)"/><text class="s" x="789" y="564.3">spindle organization</text></g>
<g id="c-mit-c"><circle class="b" cx="835" cy="540.7" r="10"/><circle class="y" cx="835" cy="540.7" r="5" stroke-width="10" pathLength="100" stroke-dasharray="15 100" transform="rotate(-90 835 540.7)"/><text class="s" x="839" y="553.3">microtubule cytoskeleton</text><text class="s" x="839" y="557.3">organization</text></g>
<g id="c-mit-d"><circle class="b" cx="675" cy="568.3" r="10"/><circle class="y" cx="675" cy="568.3" r="5" stroke-width="10" pathLength="100" stroke-dasharray="12 100" transform="rotate(-90 675 568.3)"/><text class="m" x="675" y="583.3">nuclear</text><text class="m" x="675" y="590">chromosome</text><text class="m" x="675" y="596.7">segregation</text></g>
<g id="c-mit-e"><circle class="b" cx="631.3" cy="603" r="8"/><circle class="y" cx="631.3" cy="603" r="4" stroke-width="8" pathLength="100" stroke-dasharray="15 100" transform="rotate(-90 631.3 603)"/><text class="s" x="631.7" y="614.3">meiotic cell cycle process</text></g>
<g id="c-mit-f"><circle class="b" cx="604" cy="630.7" r="8"/><circle class="y" cx="604" cy="630.7" r="4" stroke-width="8" pathLength="100" stroke-dasharray="15 100" transform="rotate(-90 604 630.7)"/><text class="s" x="600" y="641.7">meiotic nuclear division</text></g>
<g id="c-mit-g"><circle class="b" cx="631.7" cy="658.3" r="10"/><circle class="y" cx="631.7" cy="658.3" r="5" stroke-width="10" pathLength="100" stroke-dasharray="18 100" transform="rotate(-90 631.7 658.3)"/><text class="s" x="631.7" y="671">meiotic cell cycle</text></g>
<g id="c-mit-h"><circle class="b" cx="659.3" cy="630.7" r="10"/><circle class="y" cx="659.3" cy="630.7" r="5" stroke-width="10" pathLength="100" stroke-dasharray="12 100" transform="rotate(-90 659.3 630.7)"/><text class="s" x="661.7" y="643.3">attachment of spindle microtubules</text><text class="s" x="661.7" y="647.3">to kinetochore</text></g>
<g id="c-mit-i"><circle class="b" cx="725" cy="601" r="10"/><circle class="y" cx="725" cy="601" r="5" stroke-width="10" pathLength="100" stroke-dasharray="5 100" transform="rotate(-90 725 601)"/></g>
<g id="c-mit-j"><circle class="b" cx="708" cy="630.7" r="9.5"/><circle class="y" cx="708" cy="630.7" r="4.75" stroke-width="9.5" pathLength="100" stroke-dasharray="15 100" transform="rotate(-90 708 630.7)"/><text class="s" x="707.3" y="642.7">chromosome separation</text></g>
<g id="c-mit-k"><circle class="b" cx="724.7" cy="659.7" r="8"/><circle class="y" cx="724.7" cy="659.7" r="4" stroke-width="8" pathLength="100" stroke-dasharray="10 100" transform="rotate(-90 724.7 659.7)"/><text class="s" x="721.7" y="670">spindle checkpoint</text></g>
<g id="c-mit-l"><circle class="b" cx="759" cy="601" r="10"/><circle class="y" cx="759" cy="601" r="5" stroke-width="10" pathLength="100" stroke-dasharray="12 100" transform="rotate(-90 759 601)"/><text class="m" x="770" y="600">mitotic cell cycle</text><text class="m" x="770" y="606.5">process</text></g>
<g id="c-mit-m"><circle class="b" cx="775.7" cy="630.7" r="10"/><circle class="y" cx="775.7" cy="630.7" r="5" stroke-width="10" pathLength="100" stroke-dasharray="12 100" transform="rotate(-90 775.7 630.7)"/><text class="s" x="775" y="642.7">mitotic cell cycle checkpoint</text></g>
<g id="c-mit-n"><circle class="b" cx="758.3" cy="659.3" r="10"/><circle class="y" cx="758.3" cy="659.3" r="5" stroke-width="10" pathLength="100" stroke-dasharray="12 100" transform="rotate(-90 758.3 659.3)"/><text class="s" x="758.3" y="671.3">negative regulation of cell cycle</text><text class="s" x="758.3" y="675.3">process</text></g>
<g id="c-mit-o"><circle class="b" cx="817.3" cy="603.7" r="10"/><circle class="y" cx="817.3" cy="603.7" r="5" stroke-width="10" pathLength="100" stroke-dasharray="15 100" transform="rotate(-90 817.3 603.7)"/></g>
<g id="c-mit-p"><circle class="b" cx="831" cy="581.7" r="10"/><circle class="y" cx="831" cy="581.7" r="5" stroke-width="10" pathLength="100" stroke-dasharray="12 100" transform="rotate(-90 831 581.7)"/><text class="s" x="830" y="594">regulation of cell cycle</text></g>
<g id="c-mit-q"><circle class="b" cx="855" cy="570.7" r="10"/><circle class="y" cx="855" cy="570.7" r="5" stroke-width="10" pathLength="100" stroke-dasharray="15 100" transform="rotate(-90 855 570.7)"/><text class="s" x="862" y="583.3">regulation of mitotic cell cycle</text></g>
<g id="c-mit-r"><circle class="b" cx="877.7" cy="574.7" r="7.5"/><circle class="y" cx="877.7" cy="574.7" r="3.75" stroke-width="7.5" pathLength="100" stroke-dasharray="12 100" transform="rotate(-90 877.7 574.7)"/></g>
<g id="c-mit-s"><circle class="b" cx="899.3" cy="591.3" r="10"/><circle class="y" cx="899.3" cy="591.3" r="5" stroke-width="10" pathLength="100" stroke-dasharray="18 100" transform="rotate(-90 899.3 591.3)"/><text class="s" x="898.3" y="604">positive regulation of cell cycle</text></g>
<g id="c-mit-t"><circle class="b" cx="906.7" cy="616.7" r="10"/><circle class="y" cx="906.7" cy="616.7" r="5" stroke-width="10" pathLength="100" stroke-dasharray="20 100" transform="rotate(-90 906.7 616.7)"/><text class="mb" x="908.3" y="630.7">mitotic cell cycle</text></g>
<g id="c-mit-u"><circle class="b" cx="900" cy="641" r="6"/><circle class="y" cx="900" cy="641" r="3" stroke-width="6" pathLength="100" stroke-dasharray="15 100" transform="rotate(-90 900 641)"/><text class="s" x="899.3" y="649.3">cell cycle arrest</text></g>
<g id="c-mit-v"><circle class="b" cx="880.7" cy="657.3" r="10"/><circle class="y" cx="880.7" cy="657.3" r="5" stroke-width="10" pathLength="100" stroke-dasharray="18 100" transform="rotate(-90 880.7 657.3)"/><text class="s" x="880" y="670.7">regulation of cell cycle process</text></g>
<g id="c-mit-w"><circle class="b" cx="855" cy="661.7" r="10"/><circle class="y" cx="855" cy="661.7" r="5" stroke-width="10" pathLength="100" stroke-dasharray="18 100" transform="rotate(-90 855 661.7)"/><text class="s" x="853.3" y="674.7">cell cycle process</text></g>
<g id="c-mit-x"><circle class="b" cx="831" cy="650.7" r="10"/><circle class="y" cx="831" cy="650.7" r="5" stroke-width="10" pathLength="100" stroke-dasharray="15 100" transform="rotate(-90 831 650.7)"/><text class="s" x="827.3" y="663.3">DNA integrity checkpoint</text></g>
<g id="c-mit-y"><circle class="b" cx="817.3" cy="629.3" r="10"/><circle class="y" cx="817.3" cy="629.3" r="5" stroke-width="10" pathLength="100" stroke-dasharray="15 100" transform="rotate(-90 817.3 629.3)"/><text class="s" x="816.7" y="642.7">cell cycle phase transition</text></g>
</g>

<g id="cluster-labels">
<text class="big" x="55" y="491.7" font-size="19" textLength="130" lengthAdjust="spacingAndGlyphs">Cell signaling</text>
<text class="big" x="506" y="515" font-size="19" textLength="72.3" lengthAdjust="spacingAndGlyphs">Hormone</text>
<text class="big" x="506" y="536" font-size="19" textLength="79" lengthAdjust="spacingAndGlyphs">regulation</text>
<text class="big" x="81.7" y="636" font-size="21.5" textLength="210" lengthAdjust="spacingAndGlyphs">System development</text>
<text class="big" x="404" y="636" font-size="21.5" textLength="138.7" lengthAdjust="spacingAndGlyphs">Cell migration</text>
<text class="big" x="666" y="630" font-size="26" textLength="221.7" lengthAdjust="spacingAndGlyphs">Mitotic cell cycle</text>
</g>
</svg>
